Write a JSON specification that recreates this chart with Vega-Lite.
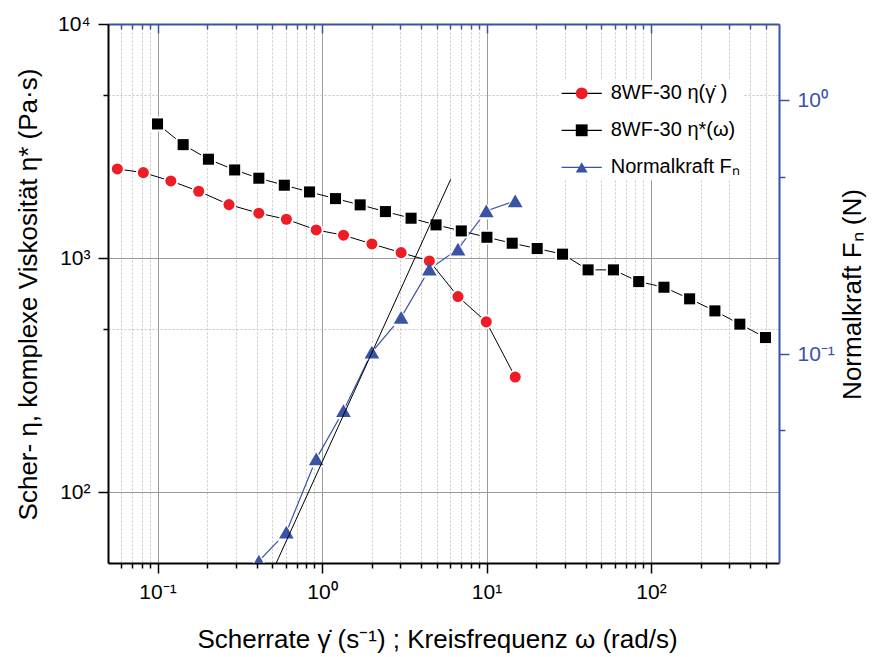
{
  "$schema": "https://vega.github.io/schema/vega-lite/v6.json",
  "autosize": {"type": "none"},
  "padding": {"left": 108, "top": 24, "right": 96, "bottom": 94},
  "width": 671,
  "height": 539,
  "background": "white",
  "config": {"view": {"stroke": null}, "font": "Liberation Sans"},
  "datasets": {
    "eta": [
      {"x": 0.057, "y": 2406, "s": "a"},
      {"x": 0.082, "y": 2320, "s": "a"},
      {"x": 0.1205, "y": 2138, "s": "a"},
      {"x": 0.178, "y": 1932, "s": "a"},
      {"x": 0.272, "y": 1694, "s": "a"},
      {"x": 0.413, "y": 1557, "s": "a"},
      {"x": 0.607, "y": 1467, "s": "a"},
      {"x": 0.922, "y": 1321, "s": "a"},
      {"x": 1.351, "y": 1254, "s": "a"},
      {"x": 2.01, "y": 1151, "s": "a"},
      {"x": 3.026, "y": 1057, "s": "a"},
      {"x": 4.494, "y": 974, "s": "a"},
      {"x": 6.71, "y": 686, "s": "a"},
      {"x": 9.97, "y": 535, "s": "a"},
      {"x": 14.95, "y": 311, "s": "a"},
      {"x": 0.1, "y": 3744, "s": "b"},
      {"x": 0.1432, "y": 3055, "s": "b"},
      {"x": 0.204, "y": 2647, "s": "b"},
      {"x": 0.2944, "y": 2382, "s": "b"},
      {"x": 0.413, "y": 2196, "s": "b"},
      {"x": 0.59, "y": 2050, "s": "b"},
      {"x": 0.84, "y": 1919, "s": "b"},
      {"x": 1.208, "y": 1797, "s": "b"},
      {"x": 1.706, "y": 1690, "s": "b"},
      {"x": 2.43, "y": 1582, "s": "b"},
      {"x": 3.479, "y": 1482, "s": "b"},
      {"x": 4.935, "y": 1388, "s": "b"},
      {"x": 7.027, "y": 1308, "s": "b"},
      {"x": 10.06, "y": 1229, "s": "b"},
      {"x": 14.33, "y": 1159, "s": "b"},
      {"x": 20.33, "y": 1100, "s": "b"},
      {"x": 28.99, "y": 1041, "s": "b"},
      {"x": 41.46, "y": 892, "s": "b"},
      {"x": 59.11, "y": 892, "s": "b"},
      {"x": 84.2, "y": 795, "s": "b"},
      {"x": 119.9, "y": 752, "s": "b"},
      {"x": 171.7, "y": 671, "s": "b"},
      {"x": 244.6, "y": 596, "s": "b"},
      {"x": 346.8, "y": 523, "s": "b"},
      {"x": 496.6, "y": 458.6, "s": "b"}
    ],
    "fn": [
      {"x": 0.413, "f": 0.01526, "s": "c"},
      {"x": 0.607, "f": 0.01984, "s": "c"},
      {"x": 0.922, "f": 0.03861, "s": "c"},
      {"x": 1.351, "f": 0.05979, "s": "c"},
      {"x": 2.01, "f": 0.1018, "s": "c"},
      {"x": 3.026, "f": 0.1394, "s": "c"},
      {"x": 4.494, "f": 0.2161, "s": "c"},
      {"x": 6.71, "f": 0.259, "s": "c"},
      {"x": 9.97, "f": 0.3665, "s": "c"},
      {"x": 14.95, "f": 0.4015, "s": "c"}
    ],
    "fit": [
      {"x": 0.527, "f": 0.015},
      {"x": 6.06, "f": 0.4887}
    ]
  },
  "resolve": {
    "scale": {"x": "shared", "y": "independent"},
    "axis": {"x": "independent", "y": "independent"}
  },
  "layer": [
    {
      "data": {"name": "eta"},
      "mark": {"type": "line", "strokeWidth": 1},
      "encoding": {
        "x": {"field": "x", "type": "quantitative",
          "scale": {"type": "log", "domain": [0.05, 600], "nice": false},
          "axis": {"orient": "bottom", "values": [0.06,0.07,0.08,0.09,0.2,0.3,0.4,0.5,0.6,0.7,0.8,0.9,2,3,4,5,6,7,8,9,20,30,40,50,60,70,80,90,200,300,400,500],
            "labels": false, "ticks": true, "tickSize": 5, "tickWidth": 1.5, "tickColor": "black", "domain": false,
            "grid": true, "gridColor": "#c4c4c4", "gridDash": [2, 2], "gridWidth": 1, "title": null}},
        "y": {"field": "y", "type": "quantitative",
          "scale": {"type": "log", "domain": [50, 10000], "nice": false},
          "axis": {"orient": "left", "values": [500, 5000], "labels": false, "ticks": true, "tickSize": 5, "tickWidth": 1.5, "tickColor": "black",
            "domain": false, "grid": true, "gridColor": "#c4c4c4", "gridDash": [2, 2], "gridWidth": 1, "title": null}},
        "stroke": {"field": "s", "type": "nominal",
          "scale": {"domain": ["a", "b", "c", "z"], "range": ["#000000", "#000000", "#3B53A4", "#ffffff"]},
          "legend": {
            "orient": "none", "legendX": 450.7, "legendY": 56.3, "title": null, "values": ["a", "b", "c"],
            "labelFont": "Liberation Sans", "labelFontSize": 20, "labelColor": "black",
            "labelExpr": "datum.value === 'a' ? '8WF-30 η(γ̇ )' : datum.value === 'b' ? '8WF-30 η*(ω)' : 'Normalkraft Fₙ'",
            "symbolType": "M-3.4,0H3.4", "symbolSize": 140, "symbolStrokeWidth": 1.2,
            "symbolOffset": 10, "labelOffset": 19, "rowPadding": 17, "padding": 3,
            "fillColor": "white", "strokeColor": null}}
      }
    },
    {
      "data": {"name": "fn"},
      "mark": {"type": "line", "strokeWidth": 1.2, "clip": true},
      "encoding": {
        "x": {"field": "x", "type": "quantitative",
          "scale": {"type": "log", "domain": [0.05, 600], "nice": false},
          "axis": {"orient": "bottom", "values": [0.1, 1, 10, 100],
            "labelExpr": "datum.value < 0.5 ? '10⁻¹' : datum.value < 5 ? '10⁰' : datum.value < 50 ? '10¹' : '10²'",
            "labelFont": "Liberation Sans", "labelFontSize": 21, "labelColor": "black", "labelPadding": 8,
            "labelFlush": false, "labelOverlap": false,
            "tickSize": 10, "tickWidth": 1.5, "tickColor": "black",
            "domain": true, "domainColor": "black", "domainWidth": 2,
            "grid": true, "gridColor": "#9a9a9a", "gridWidth": 1,
            "title": "Scherrate γ̇ (s⁻¹) ; Kreisfrequenz ω (rad/s)",
            "titleFont": "Liberation Sans", "titleFontSize": 26, "titleFontWeight": "normal", "titleColor": "black",
            "titleX": 329, "titleY": 84, "titleBaseline": "alphabetic", "titleAlign": "center"}},
        "y": {"field": "f", "type": "quantitative",
          "scale": {"type": "log", "domain": [0.015, 2], "nice": false},
          "axis": {"orient": "right", "values": [0.1, 1],
            "labelExpr": "datum.value < 0.5 ? '10⁻¹' : '10⁰'",
            "labelFont": "Liberation Sans", "labelFontSize": 21, "labelColor": "#3B53A4", "labelPadding": 8,
            "labelFlush": false, "labelOverlap": false,
            "tickSize": 10, "tickWidth": 1.5, "tickColor": "#3B53A4",
            "domain": true, "domainColor": "#3B53A4", "domainWidth": 2, "grid": false,
            "title": "Normalkraft Fₙ (N)",
            "titleFont": "Liberation Sans", "titleFontSize": 26, "titleFontWeight": "normal", "titleColor": "black",
            "titleAngle": -90, "titleX": 81, "titleY": 270, "titleBaseline": "alphabetic", "titleAlign": "center"}},
        "stroke": {"field": "s", "type": "nominal",
          "scale": {"domain": ["a", "b", "c", "z"], "range": ["#000000", "#000000", "#3B53A4", "#ffffff"]}}
      }
    },
    {
      "data": {"name": "eta"},
      "transform": [{"filter": "datum.s === 'a'"}],
      "mark": {"type": "point", "shape": "circle", "filled": true, "color": "white", "opacity": 1, "size": 219},
      "encoding": {
        "x": {"field": "x", "type": "quantitative",
          "scale": {"type": "log", "domain": [0.05, 600], "nice": false},
          "axis": {"orient": "top", "values": [0.06,0.07,0.08,0.09,0.2,0.3,0.4,0.5,0.6,0.7,0.8,0.9,2,3,4,5,6,7,8,9,20,30,40,50,60,70,80,90,200,300,400,500],
            "labels": false, "tickSize": -5, "tickWidth": 1.5, "tickColor": "#3B53A4", "domain": false, "grid": false, "title": null}},
        "y": {"field": "y", "type": "quantitative",
          "scale": {"type": "log", "domain": [50, 10000], "nice": false},
          "axis": {"orient": "left", "values": [100, 1000, 10000],
            "labelExpr": "datum.value < 500 ? '10²' : datum.value < 5000 ? '10³' : '10⁴'",
            "labelFont": "Liberation Sans", "labelFontSize": 21, "labelColor": "black", "labelPadding": 8,
            "labelFlush": false, "labelOverlap": false,
            "tickSize": 10, "tickWidth": 1.5, "tickColor": "black",
            "domain": true, "domainColor": "black", "domainWidth": 2,
            "grid": true, "gridColor": "#9a9a9a", "gridWidth": 1,
            "title": "Scher- η, komplexe Viskosität η* (Pa·s)",
            "titleFont": "Liberation Sans", "titleFontSize": 26, "titleFontWeight": "normal", "titleColor": "black",
            "titleAngle": -90, "titleX": -72, "titleY": 270, "titleBaseline": "alphabetic", "titleAlign": "center"}}
      }
    },
    {
      "data": {"name": "eta"},
      "transform": [{"filter": "datum.s === 'b'"}],
      "mark": {"type": "point", "shape": "square", "filled": true, "color": "white", "opacity": 1, "size": 216},
      "encoding": {
        "x": {"field": "x", "type": "quantitative",
          "scale": {"type": "log", "domain": [0.05, 600], "nice": false},
          "axis": {"orient": "top", "values": [0.1, 1, 10, 100], "labels": false, "tickSize": -9, "tickWidth": 1.5, "tickColor": "#3B53A4",
            "domain": true, "domainColor": "#3B53A4", "domainWidth": 2, "grid": false, "title": null}},
        "y": {"field": "y", "type": "quantitative",
          "scale": {"type": "log", "domain": [50, 10000], "nice": false}, "axis": null}
      }
    },
    {
      "data": {"name": "fn"},
      "mark": {"type": "point", "shape": "M0,-0.866L1,0.866L-1,0.866Z", "filled": true, "color": "white", "opacity": 1, "size": 388, "clip": true},
      "encoding": {
        "x": {"field": "x", "type": "quantitative",
          "scale": {"type": "log", "domain": [0.05, 600], "nice": false}, "axis": null},
        "y": {"field": "f", "type": "quantitative",
          "scale": {"type": "log", "domain": [0.015, 2], "nice": false},
          "axis": {"orient": "right", "values": [0.05, 0.5], "labels": false, "tickSize": 6, "tickWidth": 1.5, "tickColor": "#3B53A4",
            "domain": false, "grid": false, "title": null}}
      }
    },
    {
      "data": {"name": "eta"},
      "mark": {"type": "point", "filled": true, "opacity": 1, "size": 122},
      "encoding": {
        "x": {"field": "x", "type": "quantitative",
          "scale": {"type": "log", "domain": [0.05, 600], "nice": false}, "axis": null},
        "y": {"field": "y", "type": "quantitative",
          "scale": {"type": "log", "domain": [50, 10000], "nice": false}, "axis": null},
        "fill": {"field": "s", "type": "nominal",
          "scale": {"domain": ["a", "b", "c"], "range": ["#EE1C25", "#000000", "#3B53A4"]},
          "legend": {
            "orient": "none", "legendX": 450.7, "legendY": 56.3, "title": null,
            "labelFont": "Liberation Sans", "labelFontSize": 20, "labelExpr": "''",
            "symbolSize": 140, "symbolStrokeWidth": 0,
            "symbolOffset": 10, "labelOffset": 19, "rowPadding": 17, "padding": 3,
            "strokeColor": null}},
        "shape": {"field": "s", "type": "nominal",
          "scale": {"domain": ["a", "b", "c"], "range": ["circle", "square", "M0,-0.866L1,0.866L-1,0.866Z"]}}
      }
    },
    {
      "data": {"name": "fn"},
      "mark": {"type": "point", "filled": true, "opacity": 1, "size": 216, "clip": true},
      "encoding": {
        "x": {"field": "x", "type": "quantitative",
          "scale": {"type": "log", "domain": [0.05, 600], "nice": false}, "axis": null},
        "y": {"field": "f", "type": "quantitative",
          "scale": {"type": "log", "domain": [0.015, 2], "nice": false}, "axis": null},
        "fill": {"field": "s", "type": "nominal",
          "scale": {"domain": ["a", "b", "c"], "range": ["#EE1C25", "#000000", "#3B53A4"]}},
        "shape": {"field": "s", "type": "nominal",
          "scale": {"domain": ["a", "b", "c"], "range": ["circle", "square", "M0,-0.866L1,0.866L-1,0.866Z"]}}
      }
    },
    {
      "data": {"name": "fit"},
      "mark": {"type": "line", "color": "black", "strokeWidth": 1, "clip": true},
      "encoding": {
        "x": {"field": "x", "type": "quantitative",
          "scale": {"type": "log", "domain": [0.05, 600], "nice": false}, "axis": null},
        "y": {"field": "f", "type": "quantitative",
          "scale": {"type": "log", "domain": [0.015, 2], "nice": false}, "axis": null}
      }
    }
  ]
}
